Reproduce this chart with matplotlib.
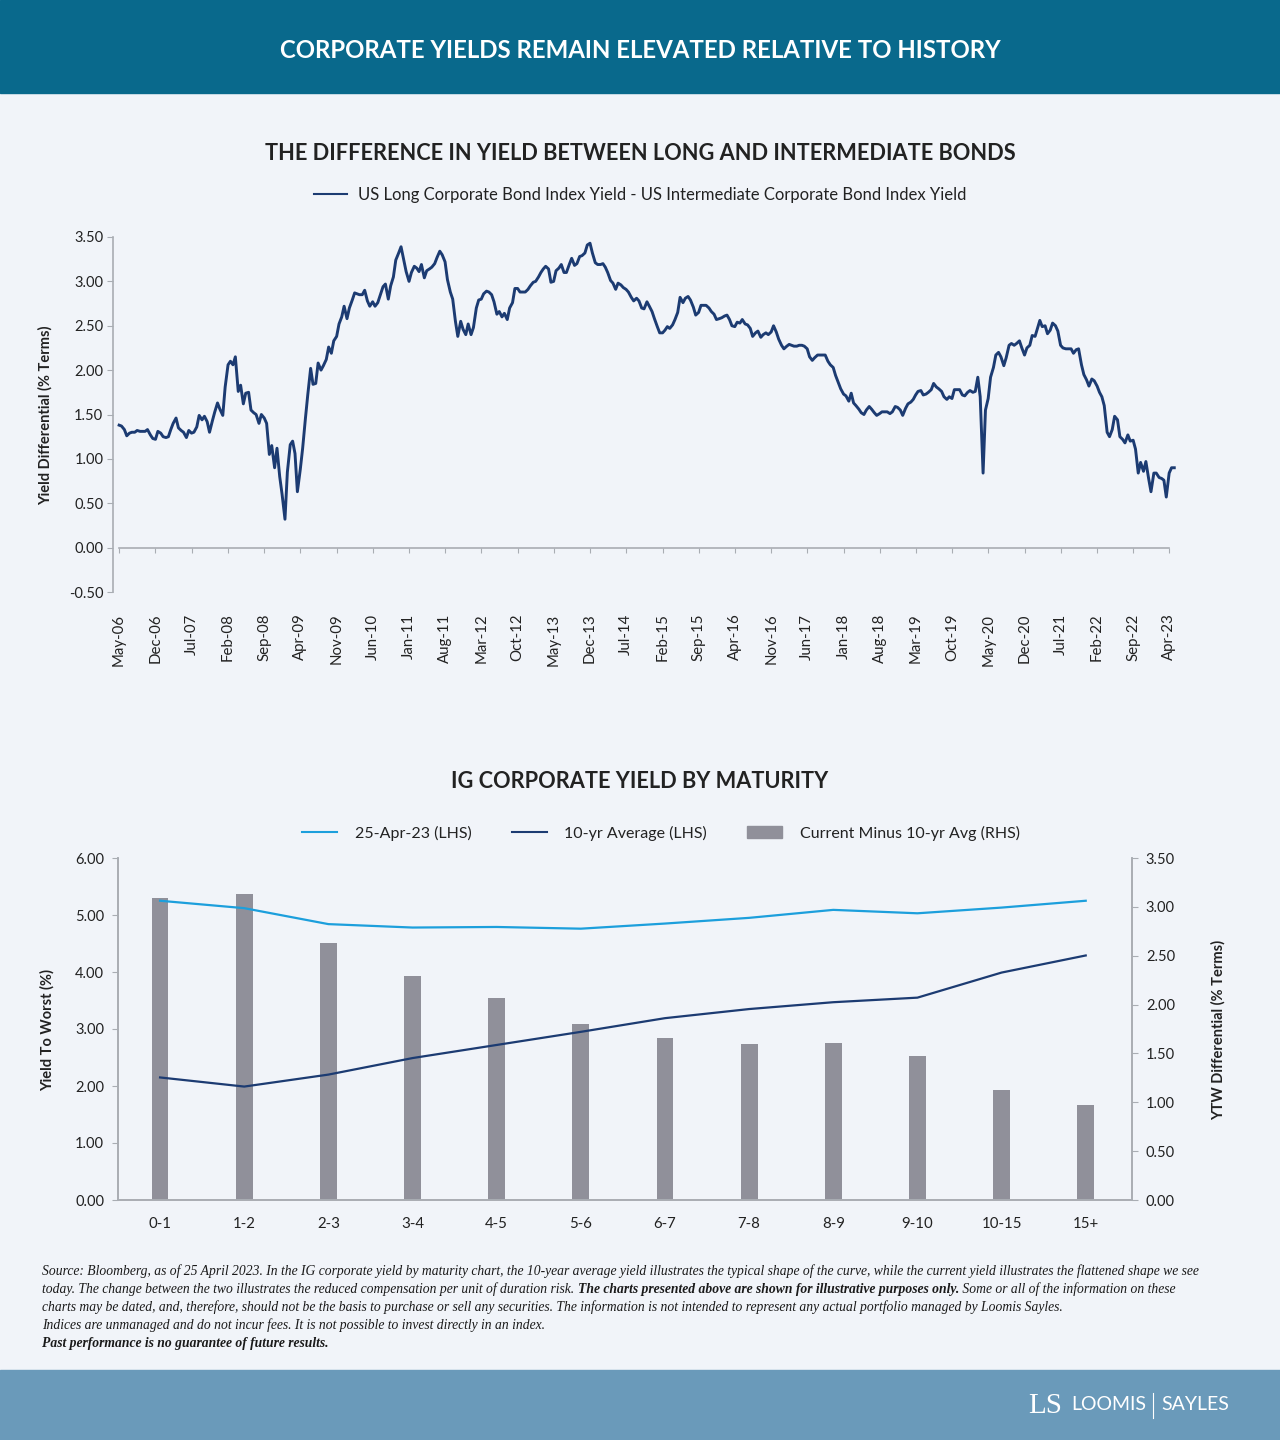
import numpy as np
import pandas as pd
import matplotlib
matplotlib.use('Agg')
import matplotlib.pyplot as plt
import matplotlib.dates as mdates
from matplotlib.patches import Rectangle, Patch
from matplotlib.lines import Line2D

W, H = 1280, 1440

def fx(x):
    return x / W

def fy(y):
    return 1 - y / H

plt.rcParams['font.family'] = ['Lato', 'DejaVu Sans']
plt.rcParams['axes.unicode_minus'] = False

# long minus intermediate corporate yield (May-06 onwards)
spread_values = [
    1.38, 1.37, 1.33, 1.26, 1.29, 1.30, 1.30, 1.32, 1.31, 1.31,
    1.31, 1.33, 1.27, 1.23, 1.22, 1.31, 1.29, 1.25, 1.24, 1.25,
    1.33, 1.40, 1.46, 1.35, 1.32, 1.30, 1.24, 1.32, 1.29, 1.30,
    1.36, 1.49, 1.44, 1.48, 1.42, 1.30, 1.43, 1.53, 1.63, 1.56,
    1.49, 1.81, 2.06, 2.10, 2.06, 2.15, 1.76, 1.83, 1.62, 1.74,
    1.75, 1.55, 1.52, 1.50, 1.40, 1.50, 1.46, 1.40, 1.05, 1.15,
    0.90, 1.12, 0.80, 0.60, 0.32, 0.85, 1.16, 1.20, 1.06, 0.63,
    0.88, 1.12, 1.45, 1.72, 2.02, 1.84, 1.85, 2.08, 2.00, 2.05,
    2.12, 2.26, 2.19, 2.33, 2.38, 2.52, 2.60, 2.72, 2.58, 2.70,
    2.79, 2.87, 2.86, 2.85, 2.85, 2.90, 2.78, 2.72, 2.77, 2.72,
    2.76, 2.84, 2.94, 2.97, 2.80, 2.95, 3.05, 3.24, 3.32, 3.39,
    3.24, 3.11, 3.00, 3.10, 3.17, 3.15, 3.11, 3.19, 3.04, 3.12,
    3.14, 3.16, 3.20, 3.27, 3.34, 3.30, 3.22, 3.02, 2.88, 2.80,
    2.55, 2.38, 2.55, 2.46, 2.40, 2.52, 2.40, 2.48, 2.70, 2.79,
    2.80, 2.86, 2.89, 2.88, 2.85, 2.77, 2.63, 2.66, 2.60, 2.64,
    2.57, 2.70, 2.76, 2.92, 2.92, 2.88, 2.88, 2.88, 2.91, 2.95,
    2.99, 3.00, 3.05, 3.10, 3.14, 3.17, 3.14, 2.99, 3.00, 3.12,
    3.15, 3.19, 3.10, 3.10, 3.19, 3.26, 3.18, 3.20, 3.28, 3.29,
    3.32, 3.41, 3.43, 3.32, 3.21, 3.19, 3.19, 3.20, 3.16, 3.10,
    3.01, 2.98, 2.91, 2.98, 2.96, 2.93, 2.91, 2.88, 2.82, 2.78,
    2.81, 2.78, 2.70, 2.69, 2.77, 2.72, 2.66, 2.58, 2.49, 2.42,
    2.42, 2.45, 2.49, 2.47, 2.51, 2.57, 2.65, 2.82, 2.76, 2.81,
    2.83, 2.79, 2.71, 2.62, 2.65, 2.73, 2.73, 2.73, 2.70, 2.66,
    2.63, 2.57, 2.58, 2.59, 2.61, 2.62, 2.57, 2.50, 2.49, 2.54,
    2.53, 2.57, 2.52, 2.51, 2.47, 2.38, 2.42, 2.44, 2.37, 2.40,
    2.42, 2.40, 2.43, 2.50, 2.43, 2.35, 2.28, 2.24, 2.27, 2.29,
    2.28, 2.27, 2.27, 2.28, 2.28, 2.27, 2.24, 2.15, 2.11, 2.14,
    2.17, 2.17, 2.17, 2.17, 2.10, 2.06, 2.03, 1.94, 1.86, 1.79,
    1.73, 1.71, 1.65, 1.74, 1.63, 1.60, 1.56, 1.52, 1.50, 1.55,
    1.59, 1.56, 1.52, 1.49, 1.51, 1.53, 1.53, 1.53, 1.51, 1.53,
    1.59, 1.58, 1.55, 1.49, 1.57, 1.62, 1.64, 1.67, 1.72, 1.76,
    1.77, 1.72, 1.73, 1.75, 1.78, 1.85, 1.81, 1.79, 1.76, 1.70,
    1.67, 1.70, 1.68, 1.78, 1.78, 1.78, 1.72, 1.71, 1.75, 1.77,
    1.75, 1.76, 1.92, 1.70, 0.84, 1.55, 1.68, 1.92, 2.03, 2.17,
    2.20, 2.15, 2.05, 2.14, 2.28, 2.30, 2.28, 2.30, 2.33, 2.25,
    2.17, 2.25, 2.28, 2.39, 2.38, 2.47, 2.56, 2.49, 2.50, 2.41,
    2.45, 2.53, 2.50, 2.44, 2.28, 2.25, 2.24, 2.24, 2.24, 2.19,
    2.23, 2.24, 2.06, 1.95, 1.89, 1.82, 1.90, 1.88, 1.82, 1.75,
    1.70, 1.60, 1.30, 1.25, 1.33, 1.48, 1.44, 1.25, 1.22, 1.18,
    1.27, 1.20, 1.21, 1.11, 0.84, 0.96, 0.86, 0.97, 0.78, 0.63,
    0.84, 0.84, 0.79, 0.78, 0.76, 0.57, 0.84, 0.90, 0.90,
]
spread_dates = pd.date_range('2006-05-01', periods=len(spread_values), freq='SMS')

# IG corporate yield by maturity
maturity = ['0-1', '1-2', '2-3', '3-4', '4-5', '5-6', '6-7', '7-8', '8-9', '9-10', '10-15', '15+']
current_ytw = [5.25, 5.12, 4.84, 4.78, 4.79, 4.76, 4.85, 4.95, 5.09, 5.03, 5.13, 5.25]
avg_10yr = [2.15, 1.99, 2.20, 2.49, 2.72, 2.95, 3.19, 3.35, 3.47, 3.55, 3.99, 4.29]
current_minus_avg = [3.09, 3.13, 2.63, 2.29, 2.07, 1.80, 1.66, 1.60, 1.61, 1.47, 1.13, 0.97]

bg = '#f1f4f9'
navy = '#1c3b72'
light_blue = '#1c9fdc'
bar_grey = '#90909a'
spine_grey = '#a9adb3'
text_col = '#222222'

fig = plt.figure(figsize=(12.8, 14.4), dpi=100, facecolor=bg)

# header and footer bands
fig.add_artist(Rectangle((0, fy(93)), 1, 93 / H, transform=fig.transFigure,
                         color='#09698c', zorder=0))
fig.add_artist(Rectangle((0, 0), 1, 70 / H, transform=fig.transFigure,
                         color='#6a9aba', zorder=0))
fig.text(0.5, fy(51), 'CORPORATE YIELDS REMAIN ELEVATED RELATIVE TO HISTORY',
         color='white', fontsize=17.3, fontweight='bold', ha='center', va='center')

# ---- top chart ----
fig.text(fx(640), fy(153), 'THE DIFFERENCE IN YIELD BETWEEN LONG AND INTERMEDIATE BONDS',
         color=text_col, fontsize=15.7, fontweight='bold', ha='center', va='center')

ax1 = fig.add_axes([fx(113), fy(592), (1178 - 113) / W, (592 - 237) / H])
ax1.patch.set_visible(False)
ax1.plot(spread_dates, spread_values, color=navy, lw=2.1)
ax1.set_ylim(-0.5, 3.5)
ax1.set_yticks(np.arange(-0.5, 3.51, 0.5))
ax1.yaxis.set_major_formatter(lambda v, p: f'{v:.2f}')
ax1.set_xlim(spread_dates[0] - pd.Timedelta(days=36), spread_dates[-1] + pd.Timedelta(days=22))
tick_dates = spread_dates[::14]
ax1.set_xticks(tick_dates)
ax1.xaxis.set_major_formatter(mdates.DateFormatter('%b-%y'))
ax1.spines[['top', 'right']].set_visible(False)
ax1.spines['bottom'].set_position(('data', 0))
ax1.spines['bottom'].set_bounds(mdates.date2num(tick_dates[0]), mdates.date2num(tick_dates[-1]))
for s in ['left', 'bottom']:
    ax1.spines[s].set_color(spine_grey)
    ax1.spines[s].set_linewidth(1.2)
ax1.tick_params(axis='x', direction='out', length=3.5, pad=44, labelrotation=90,
                labelsize=10.8, color=spine_grey, labelcolor=text_col)
ax1.tick_params(axis='y', direction='out', length=4, pad=3, labelsize=10.5,
                color=spine_grey, labelcolor=text_col)
fig.text(fx(45), fy(415), 'Yield Differential (% Terms)', rotation=90, fontsize=10.5,
         fontweight='bold', color=text_col, ha='center', va='center')

fig.legend(handles=[Line2D([], [], color=navy, lw=1.5)],
           labels=['US Long Corporate Bond Index Yield - US Intermediate Corporate Bond Index Yield'],
           loc='center', bbox_to_anchor=(fx(640), fy(195)), frameon=False, fontsize=12,
           handlelength=2.0, handletextpad=0.65, labelcolor=text_col)

# ---- bottom chart ----
fig.text(fx(640), fy(782), 'IG CORPORATE YIELD BY MATURITY',
         color=text_col, fontsize=15.7, fontweight='bold', ha='center', va='center')

ax2 = fig.add_axes([fx(118), fy(1200), (1132 - 118) / W, (1200 - 858) / H])
ax3 = ax2.twinx()
xpos = np.arange(len(maturity))
ax3.bar(xpos, current_minus_avg, width=0.2, color=bar_grey, zorder=2)
ax2.plot(xpos, current_ytw, color=light_blue, lw=1.6)
ax2.plot(xpos, avg_10yr, color=navy, lw=1.6)
ax2.set_zorder(ax3.get_zorder() + 1)
ax2.patch.set_visible(False)
ax3.patch.set_visible(False)

ax2.set_xlim(-0.5, 11.55)
ax2.set_ylim(0, 6)
ax3.set_ylim(0, 3.5)
ax2.set_yticks(np.arange(0, 6.01, 1))
ax3.set_yticks(np.arange(0, 3.51, 0.5))
ax2.yaxis.set_major_formatter(lambda v, p: f'{v:.2f}')
ax3.yaxis.set_major_formatter(lambda v, p: f'{v:.2f}')
ax2.set_xticks(xpos)
ax2.set_xticklabels(maturity)
for a in (ax2, ax3):
    a.spines['top'].set_visible(False)
    for s in ['left', 'right', 'bottom']:
        a.spines[s].set_color(spine_grey)
        a.spines[s].set_linewidth(1.2)
ax2.tick_params(axis='x', length=0, pad=12, labelsize=10.8, labelcolor=text_col)
ax2.tick_params(axis='y', direction='out', length=4, pad=6, labelsize=10.5,
                color=spine_grey, labelcolor=text_col)
ax3.tick_params(axis='y', direction='out', length=4, pad=6, labelsize=10.5,
                color=spine_grey, labelcolor=text_col)
fig.text(fx(47), fy(1030), 'Yield To Worst (%)', rotation=90, fontsize=10.5,
         fontweight='bold', color=text_col, ha='center', va='center')
fig.text(fx(1218), fy(1030), 'YTW Differential (% Terms)', rotation=90, fontsize=10.5,
         fontweight='bold', color=text_col, ha='center', va='center')

fig.legend(handles=[Line2D([], [], color=light_blue, lw=1.5),
                    Line2D([], [], color=navy, lw=1.5),
                    Patch(color=bar_grey)],
           labels=['25-Apr-23 (LHS)', '10-yr Average (LHS)', 'Current Minus 10-yr Avg (RHS)'],
           loc='center', bbox_to_anchor=(fx(661), fy(833)), ncol=3, frameon=False,
           fontsize=11.5, handlelength=2.2, handleheight=0.8, handletextpad=1.1,
           columnspacing=2.5, labelcolor=text_col)

# ---- footnote ----
axn = fig.add_axes([0, 0, 1, 1])
axn.axis('off')
serif = ['Liberation Serif', 'DejaVu Serif']
note = dict(family=serif, style='italic', fontsize=9.8, color='#1a1a1a', va='baseline')
lines = [
    'Source: Bloomberg, as of 25 April 2023. In the IG corporate yield by maturity chart, the 10-year average yield '
    'illustrates the typical shape of the curve, while the current yield illustrates the flattened shape we see',
    None,
    'charts may be dated, and, therefore, should not be the basis to purchase or sell any securities. The information '
    'is not intended to represent any actual portfolio managed by Loomis Sayles.',
    'Indices are unmanaged and do not incur fees. It is not possible to invest directly in an index.',
]
base_y = [1275, 1293, 1311, 1329]
for txt, y in zip(lines, base_y):
    if txt is not None:
        axn.text(fx(42), fy(y), txt, transform=fig.transFigure, **note)
t1 = axn.text(fx(42), fy(1293),
              'today. The change between the two illustrates the reduced compensation per unit of duration risk. ',
              transform=fig.transFigure, **note)
t2 = axn.annotate('The charts presented above are shown for illustrative purposes only.',
                  xy=(1, fy(1293)), xycoords=(t1, 'figure fraction'), fontweight='bold', **note)
axn.annotate(' Some or all of the information on these',
             xy=(1, fy(1293)), xycoords=(t2, 'figure fraction'), **note)
axn.text(fx(42), fy(1347), 'Past performance is no guarantee of future results.',
         transform=fig.transFigure, fontweight='bold', **note)

# ---- logo ----
fig.text(fx(1028), fy(1406), 'LS', family=serif, fontsize=21, color='white',
         ha='left', va='center')
fig.text(fx(1146), fy(1405), 'LOOMIS', fontsize=14, color='white', ha='right', va='center')
fig.text(fx(1161), fy(1405), 'SAYLES', fontsize=14, color='white', ha='left', va='center')
fig.add_artist(Line2D([fx(1153), fx(1153)], [fy(1393), fy(1418)], color='white', lw=0.8,
                      transform=fig.transFigure))

fig.savefig('out.png', dpi=100, facecolor=bg)
